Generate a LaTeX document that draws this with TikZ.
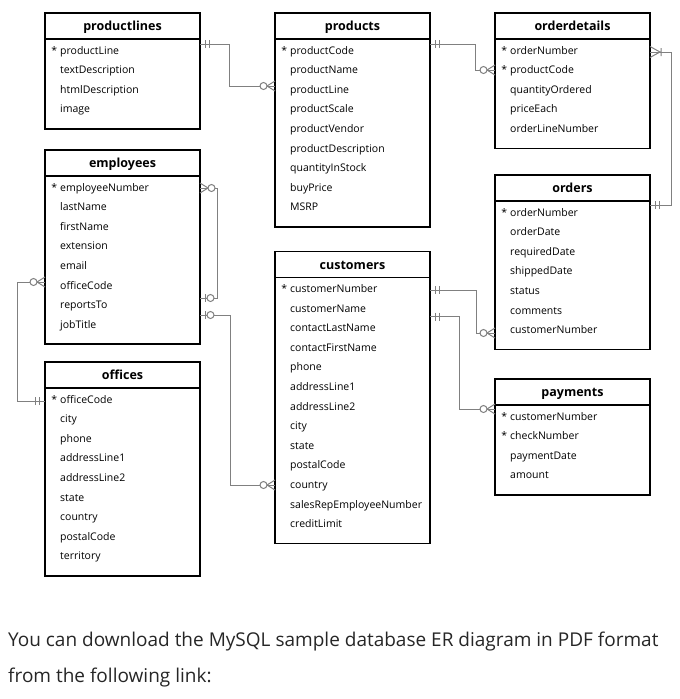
\documentclass[tikz,border=0pt]{standalone}
\usepackage{fontspec}
\setmainfont{Open Sans}
\usetikzlibrary{positioning}

\newcommand{\pkey}{\llap{*\hspace{3pt}}}

\tikzset{
  tbl/.style={draw=black, line width=1.5pt, inner sep=0pt, outer sep=0pt, minimum width=155pt},
  tblhead/.style={tbl, anchor=north west, minimum height=26pt, font=\fontsize{12.5}{14}\selectfont\bfseries, text height=9.4pt, text depth=0pt},
  tblbody/.style={tbl, anchor=north},
  field/.style={anchor=base west, inner sep=0pt, font=\fontsize{10.5}{12}\selectfont},
  rel/.style={draw=black!50, line width=1pt},
  onlyone/.pic={\draw[rel] (5.5,-4) -- (5.5,4) (9.5,-4) -- (9.5,4);},
  zeroone/.pic={\draw[rel] (5.5,-4) -- (5.5,4); \draw[rel, fill=white] (10.5,0) circle (3.5);},
  zeromany/.pic={\draw[rel] (0,-5) -- (8,0) -- (0,5); \draw[rel, fill=white] (11.5,0) circle (3.5);},
  onemany/.pic={\draw[rel] (0,-5.5) -- (10,0) -- (0,5.5) (11,-4) -- (11,4);},
  note/.style={anchor=base west, inner sep=0pt, text=black!85, font=\fontsize{19}{22}\selectfont}
}

\begin{document}
\begin{tikzpicture}[x=1pt, y=-1pt]
    \useasboundingbox (0,0) rectangle (680,699);

    % 1. Các bảng (tables)
    \node[tblhead] (pl) at (45,13) {productlines};
    \node[tblbody, minimum height=89.8pt, below=0pt of pl] (pl-box) {};
    \foreach \f [count=\i] in {\pkey productLine, textDescription, htmlDescription, image}
        \node[field] (pl-\i) at ([xshift=15pt, yshift={-(15+19.6*(\i-1))*1pt}]pl.south west) {\f};

    \node[tblhead] (pr) at (275,13) {products};
    \node[tblbody, minimum height=187.8pt, below=0pt of pr] (pr-box) {};
    \foreach \f [count=\i] in {\pkey productCode, productName, productLine, productScale, productVendor,
        productDescription, quantityInStock, buyPrice, MSRP}
        \node[field] (pr-\i) at ([xshift=15pt, yshift={-(15+19.6*(\i-1))*1pt}]pr.south west) {\f};

    \node[tblhead] (od) at (495,13) {orderdetails};
    \node[tblbody, minimum height=109.4pt, below=0pt of od] (od-box) {};
    \foreach \f [count=\i] in {\pkey orderNumber, \pkey productCode, quantityOrdered, priceEach, orderLineNumber}
        \node[field] (od-\i) at ([xshift=15pt, yshift={-(15+19.6*(\i-1))*1pt}]od.south west) {\f};

    \node[tblhead] (em) at (45,150) {employees};
    \node[tblbody, minimum height=168.2pt, below=0pt of em] (em-box) {};
    \foreach \f [count=\i] in {\pkey employeeNumber, lastName, firstName, extension, email,
        officeCode, reportsTo, jobTitle}
        \node[field] (em-\i) at ([xshift=15pt, yshift={-(15+19.6*(\i-1))*1pt}]em.south west) {\f};

    \node[tblhead] (or) at (495,175) {orders};
    \node[tblbody, minimum height=148.6pt, below=0pt of or] (or-box) {};
    \foreach \f [count=\i] in {\pkey orderNumber, orderDate, requiredDate, shippedDate, status,
        comments, customerNumber}
        \node[field] (or-\i) at ([xshift=15pt, yshift={-(15+19.6*(\i-1))*1pt}]or.south west) {\f};

    \node[tblhead] (cu) at (275,251.5) {customers};
    \node[tblbody, minimum height=266.2pt, below=0pt of cu] (cu-box) {};
    \foreach \f [count=\i] in {\pkey customerNumber, customerName, contactLastName, contactFirstName,
        phone, addressLine1, addressLine2, city, state, postalCode, country,
        salesRepEmployeeNumber, creditLimit}
        \node[field] (cu-\i) at ([xshift=15pt, yshift={-(15+19.6*(\i-1))*1pt}]cu.south west) {\f};

    \node[tblhead] (of) at (45,362) {offices};
    \node[tblbody, minimum height=187.8pt, below=0pt of of] (of-box) {};
    \foreach \f [count=\i] in {\pkey officeCode, city, phone, addressLine1, addressLine2, state,
        country, postalCode, territory}
        \node[field] (of-\i) at ([xshift=15pt, yshift={-(15+19.6*(\i-1))*1pt}]of.south west) {\f};

    \node[tblhead] (pa) at (495,379) {payments};
    \node[tblbody, minimum height=89.8pt, below=0pt of pa] (pa-box) {};
    \foreach \f [count=\i] in {\pkey customerNumber, \pkey checkNumber, paymentDate, amount}
        \node[field] (pa-\i) at ([xshift=15pt, yshift={-(15+19.6*(\i-1))*1pt}]pa.south west) {\f};

    % 2. Các điểm nối (connection points)
    \coordinate (pl-out) at ([yshift=-31pt]pl.north east);
    \coordinate (pr-in)  at ([yshift=-73pt]pr.north west);
    \coordinate (pr-out) at ([yshift=-31pt]pr.north east);
    \coordinate (od-in)  at ([yshift=-57pt]od.north west);
    \coordinate (od-out) at ([yshift=-39pt]od.north east);
    \coordinate (or-one) at ([yshift=-30pt]or.north east);
    \coordinate (em-top) at ([yshift=-38pt]em.north east);
    \coordinate (em-rep) at ([yshift=-148pt]em.north east);
    \coordinate (em-off) at ([yshift=-132pt]em.north west);
    \coordinate (of-in)  at ([yshift=-39pt]of.north west);
    \coordinate (em-out) at ([yshift=-165pt]em.north east);
    \coordinate (cu-rep) at ([yshift=-233.5pt]cu.north west);
    \coordinate (cu-or)  at ([yshift=-38.5pt]cu.north east);
    \coordinate (or-in)  at ([yshift=-158pt]or.north west);
    \coordinate (cu-pa)  at ([yshift=-65pt]cu.north east);
    \coordinate (pa-in)  at ([yshift=-30pt]pa.north west);

    % 3. Các đường quan hệ (relations)
    \draw[rel] (pl-out) -- ++(29,0) |- (pr-in);
    \draw[rel] (pr-out) -- ++(45,0) |- (od-in);
    \draw[rel] (od-out) -- ++(21,0) |- (or-one);
    \draw[rel] (em-top) -- ++(17,0) |- (em-rep);
    \draw[rel] (em-off) -- ++(-28,0) |- (of-in);
    \draw[rel] (em-out) -- ++(30,0) |- (cu-rep);
    \draw[rel] (cu-or) -- ++(46,0) |- (or-in);
    \draw[rel] (cu-pa) -- ++(29,0) |- (pa-in);

    % Ký hiệu đầu mút (crow's foot ends)
    \pic at (pl-out) {onlyone};
    \pic[rotate=180] at (pr-in) {zeromany};
    \pic at (pr-out) {onlyone};
    \pic[rotate=180] at (od-in) {zeromany};
    \pic at (od-out) {onemany};
    \pic at (or-one) {onlyone};
    \pic at (em-top) {zeromany};
    \pic at (em-rep) {zeroone};
    \pic[rotate=180] at (em-off) {zeromany};
    \pic[rotate=180] at (of-in) {onlyone};
    \pic at (em-out) {zeroone};
    \pic[rotate=180] at (cu-rep) {zeromany};
    \pic at (cu-or) {onlyone};
    \pic[rotate=180] at (or-in) {zeromany};
    \pic at (cu-pa) {onlyone};
    \pic[rotate=180] at (pa-in) {zeromany};

    % 4. Dòng chữ bên dưới
    \node[note] (dl1) at (8,646.7) {You can download the MySQL sample database ER diagram in PDF format};
    \node[note] (dl2) at (8,682.7) {from the following link:};

\end{tikzpicture}
\end{document}
